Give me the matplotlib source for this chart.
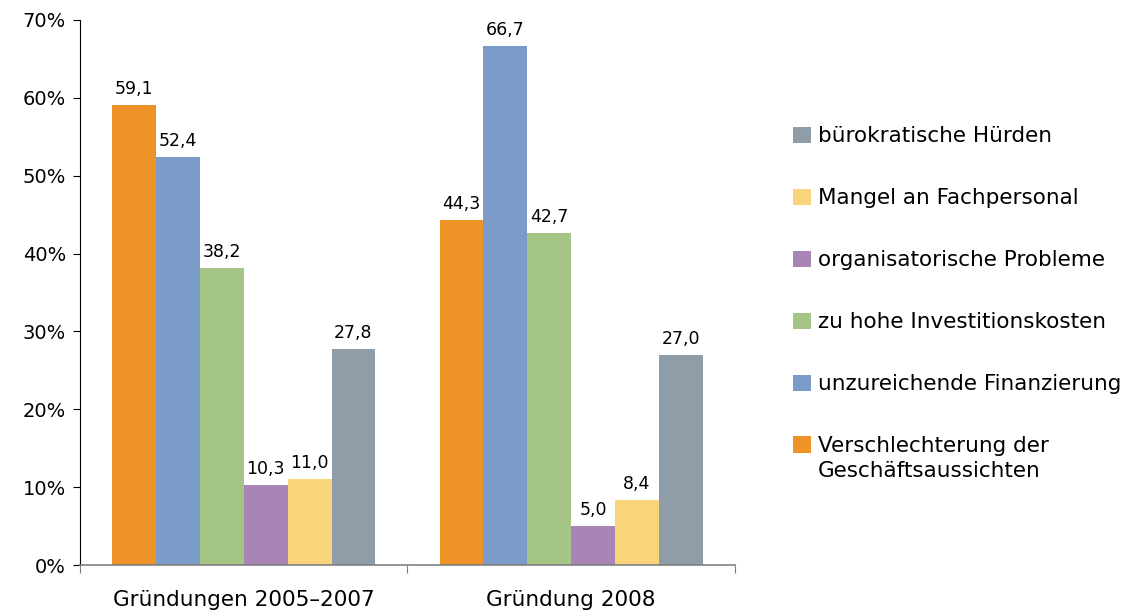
import matplotlib
matplotlib.use("Agg")
import matplotlib.pyplot as plt
import numpy as np

plt.rcParams['font.family'] = ['DejaVu Sans']

categories = ["Gründungen 2005–2007", "Gründung 2008"]
series = ["Verschlechterung der\nGeschäftsaussichten", "unzureichende Finanzierung",
          "zu hohe Investitionskosten", "organisatorische Probleme",
          "Mangel an Fachpersonal", "bürokratische Hürden"]
values = [
    [59.1, 44.3],
    [52.4, 66.7],
    [38.2, 42.7],
    [10.3, 5.0],
    [11.0, 8.4],
    [27.8, 27.0],
]
colors = ["#ee9328", "#7b9cc9", "#a4c585", "#a984b6", "#f9d47a", "#8f9da8"]
yticks = [0, 10, 20, 30, 40, 50, 60, 70]

fig = plt.figure(figsize=(11.43, 6.15), dpi=100)
ax = fig.add_axes([0.070, 0.0813, 0.573, 0.8862])

n = len(series)
w = 0.134
x = np.arange(len(categories))
handles = []
for i, (s, v, c) in enumerate(zip(series, values, colors)):
    pos = x + (i - (n - 1) / 2) * w
    b = ax.bar(pos, v, width=w, color=c, label=s, zorder=2)
    ax.bar_label(b, labels=[f"{val:.1f}".replace('.', ',') for val in v],
                 padding=5, fontsize=12.5)
    handles.append(b)

ax.set_xlim(-0.5, 1.5)
ax.set_ylim(0, 70)
ax.set_yticks(yticks)
ax.set_yticklabels([f"{t}%" for t in yticks], fontsize=14)
ax.set_xticks([-0.5, 0.5, 1.5])
ax.set_xticklabels([])
ax.set_xticks(x, minor=True)
ax.set_xticklabels(categories, minor=True, fontsize=15.5)
ax.tick_params(axis='x', which='minor', length=0, pad=18)
ax.tick_params(axis='x', which='major', length=6, color='#808080', direction='out')
ax.tick_params(axis='y', length=5, direction='out', pad=5)
for sp in ['top', 'right']:
    ax.spines[sp].set_visible(False)
ax.spines['bottom'].set_color('#808080')
ax.spines['bottom'].set_linewidth(1.2)
ax.spines['left'].set_color('#000000')

leg = fig.legend(handles[::-1], series[::-1], loc='upper left',
                 bbox_to_anchor=(0.677, 0.826), frameon=False, fontsize=15.5,
                 labelspacing=1.95, handlelength=0.85, handleheight=0.8,
                 handletextpad=0.3)
for t in leg.get_texts():
    t.set_linespacing(1.3)
rows = leg._legend_handle_box.get_children()[0].get_children()
rows[-1].align = "top"

fig.savefig("out.png", dpi=100)
